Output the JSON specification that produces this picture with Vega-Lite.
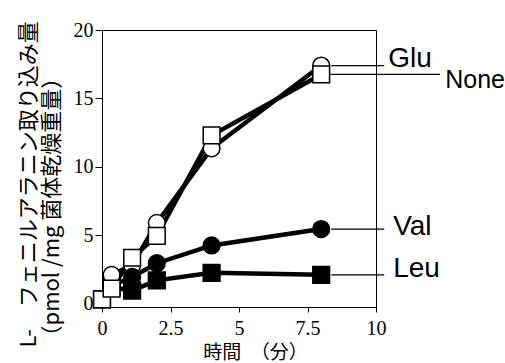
{
  "$schema": "https://vega.github.io/schema/vega-lite/v6.json",
  "width": 274,
  "height": 277,
  "autosize": {"type": "none"},
  "padding": {"left": 102, "top": 30, "right": 129, "bottom": 56},
  "background": "white",
  "config": {
    "view": {"stroke": "black", "strokeWidth": 1},
    "axis": {
      "grid": false,
      "domainColor": "black",
      "tickColor": "black",
      "labelColor": "black",
      "titleColor": "black",
      "labelFont": "Liberation Serif",
      "labelFontSize": 20,
      "titleFont": "Noto Sans CJK JP",
      "titleFontSize": 22,
      "titleFontWeight": "normal",
      "labelFlush": false,
      "labelOverlap": false
    }
  },
  "data": {
    "values": [
      {"series": "Val", "t": 0, "v": 0.3},
      {"series": "Val", "t": 0.35, "v": 1.3},
      {"series": "Leu", "t": 0, "v": 0.3},
      {"series": "Leu", "t": 0.35, "v": 1.2},
      {"series": "Glu", "t": 0, "v": 0.3},
      {"series": "Glu", "t": 0.35, "v": 2.1},
      {"series": "Glu", "t": 1.1, "v": 2.8},
      {"series": "Glu", "t": 2, "v": 5.9},
      {"series": "Glu", "t": 4, "v": 11.35},
      {"series": "Glu", "t": 8, "v": 17.4},
      {"series": "None", "t": 0, "v": 0.3},
      {"series": "None", "t": 0.35, "v": 1.1},
      {"series": "None", "t": 1.1, "v": 3.35},
      {"series": "None", "t": 2, "v": 4.95},
      {"series": "None", "t": 4, "v": 12.3},
      {"series": "None", "t": 8, "v": 16.75},
      {"series": "Val", "t": 1.1, "v": 1.95},
      {"series": "Val", "t": 2, "v": 2.95},
      {"series": "Val", "t": 4, "v": 4.25},
      {"series": "Val", "t": 8, "v": 5.45},
      {"series": "Leu", "t": 1.1, "v": 0.95},
      {"series": "Leu", "t": 2, "v": 1.7},
      {"series": "Leu", "t": 4, "v": 2.25},
      {"series": "Leu", "t": 8, "v": 2.1}
    ]
  },
  "encoding": {
    "x": {
      "field": "t",
      "type": "quantitative",
      "scale": {"domain": [0, 10], "nice": false, "zero": false},
      "axis": {
        "values": [0, 2.5, 5, 7.5, 10],
        "format": ".2~f",
        "tickSize": 5,
        "labelPadding": 6,
        "title": "時間　（分）",
        "titleFontSize": 19,
        "titleX": 153,
        "titleY": 45,
        "titleBaseline": "middle",
        "titleAlign": "center"
      }
    },
    "y": {
      "field": "v",
      "type": "quantitative",
      "scale": {"domain": [-0.25, 20], "nice": false, "zero": false},
      "axis": {
        "values": [0, 5, 10, 15, 20],
        "format": "d",
        "tickSize": 7,
        "labelPadding": 2,
        "title": ["L-　フェニルアラニン取り込み量", "（pmol /mg 菌体乾燥重量）"],
        "titleAngle": -90,
        "titleAlign": "left",
        "titleBaseline": "middle",
        "titleLineHeight": 23,
        "titleX": -74,
        "titleY": 317
      }
    }
  },
  "layer": [
    {
      "mark": {"type": "line", "color": "black", "strokeWidth": 4.5},
      "encoding": {"detail": {"field": "series"}}
    },
    {
      "mark": {"type": "point", "filled": true, "stroke": "black", "strokeWidth": 1.5, "opacity": 1},
      "encoding": {
        "shape": {"field": "series", "type": "nominal", "scale": {"domain": ["Glu", "None", "Val", "Leu"], "range": ["circle", "square", "circle", "square"]}, "legend": null},
        "fill": {"field": "series", "type": "nominal", "scale": {"domain": ["Glu", "None", "Val", "Leu"], "range": ["white", "white", "black", "black"]}, "legend": null},
        "size": {"field": "series", "type": "nominal", "scale": {"domain": ["Glu", "None", "Val", "Leu"], "range": [280, 280, 230, 230]}, "legend": null}
      }
    },
    {
      "transform": [{"filter": "datum.t == 8 && datum.series != 'None'"}],
      "mark": {"type": "rule", "color": "black", "strokeWidth": 1.2, "xOffset": 10, "x2Offset": 63},
      "encoding": {"x2": {"field": "t"}}
    },
    {
      "transform": [{"filter": "datum.t == 8 && datum.series == 'None'"}],
      "mark": {"type": "rule", "color": "black", "strokeWidth": 1.2, "xOffset": 9, "x2Offset": 119},
      "encoding": {"x2": {"field": "t"}}
    },
    {
      "transform": [{"filter": "datum.t == 8 && datum.series == 'Glu'"}],
      "mark": {"type": "text", "font": "Liberation Sans", "fontSize": 28, "align": "left", "baseline": "alphabetic", "dx": 67, "dy": 1.5, "color": "black"},
      "encoding": {"text": {"field": "series"}}
    },
    {
      "transform": [{"filter": "datum.t == 8 && datum.series == 'None'"}],
      "mark": {"type": "text", "font": "Liberation Sans", "fontSize": 25, "align": "left", "baseline": "alphabetic", "dx": 124, "dy": 13.5, "color": "black"},
      "encoding": {"text": {"field": "series"}}
    },
    {
      "transform": [{"filter": "datum.t == 8 && datum.series == 'Val'"}],
      "mark": {"type": "text", "font": "Liberation Sans", "fontSize": 28, "align": "left", "baseline": "alphabetic", "dx": 72, "dy": 6, "color": "black"},
      "encoding": {"text": {"field": "series"}}
    },
    {
      "transform": [{"filter": "datum.t == 8 && datum.series == 'Leu'"}],
      "mark": {"type": "text", "font": "Liberation Sans", "fontSize": 28, "align": "left", "baseline": "alphabetic", "dx": 72, "dy": 2, "color": "black"},
      "encoding": {"text": {"field": "series"}}
    }
  ]
}
